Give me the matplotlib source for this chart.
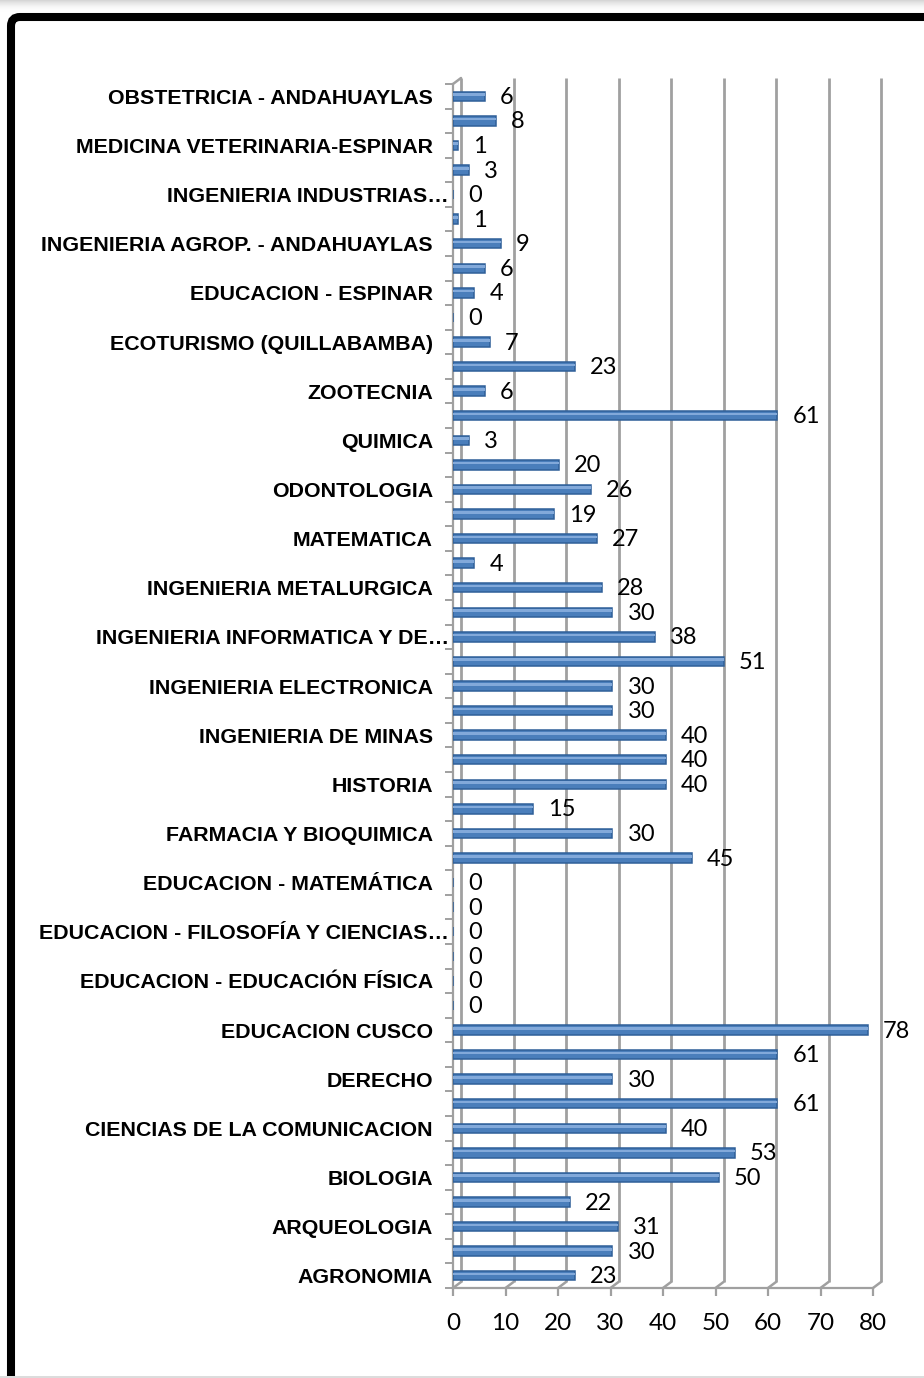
import matplotlib
matplotlib.use("Agg")
import matplotlib.pyplot as plt
from matplotlib.transforms import ScaledTranslation, IdentityTransform, Affine2D
from matplotlib.patches import FancyBboxPatch, Rectangle
import numpy as np

# ---- data (bottom to top) ----
categories = [
    "AGRONOMIA", "", "ARQUEOLOGIA", "", "BIOLOGIA", "",
    "CIENCIAS DE LA COMUNICACION", "", "DERECHO", "", "EDUCACION CUSCO", "",
    "EDUCACION - EDUCACIÓN FÍSICA", "", "EDUCACION - FILOSOFÍA Y CIENCIAS…", "",
    "EDUCACION - MATEMÁTICA", "", "FARMACIA Y BIOQUIMICA", "", "HISTORIA", "",
    "INGENIERIA DE MINAS", "", "INGENIERIA ELECTRONICA", "",
    "INGENIERIA INFORMATICA Y DE…", "", "INGENIERIA METALURGICA", "",
    "MATEMATICA", "", "ODONTOLOGIA", "", "QUIMICA", "", "ZOOTECNIA", "",
    "ECOTURISMO (QUILLABAMBA)", "", "EDUCACION - ESPINAR", "",
    "INGENIERIA AGROP. - ANDAHUAYLAS", "", "INGENIERIA INDUSTRIAS…", "",
    "MEDICINA VETERINARIA-ESPINAR", "", "OBSTETRICIA - ANDAHUAYLAS",
]
values = [
    23, 30, 31, 22, 50, 53, 40, 61, 30, 61, 78, 0,
    0, 0, 0, 0, 0, 45, 30, 15, 40, 40, 40, 30,
    30, 51, 38, 30, 28, 4, 27, 19, 26, 20, 3, 61,
    6, 23, 7, 0, 4, 6, 9, 1, 0, 3, 1, 8, 6,
]
x_ticks = [0, 10, 20, 30, 40, 50, 60, 70, 80]

W, H = 924, 1378
fig = plt.figure(figsize=(W / 100, H / 100), dpi=100)
fig.patch.set_facecolor("white")

ax_left, ax_right = 453 / W, 873 / W
ax_top, ax_bot = 1 - 84 / H, 1 - 1288 / H
ax = fig.add_axes([ax_left, ax_bot, ax_right - ax_left, ax_top - ax_bot])
ax.set_facecolor("none")

n = len(values)
y = np.arange(n)
ax.set_xlim(0, 80)
ax.set_ylim(-0.5, n - 0.5)

grid_col = "#a0a0a0"
# 3D offset of the back wall (pixels)
dx, dy = 8, 6
off = ScaledTranslation(dx / 100, dy / 100, fig.dpi_scale_trans)
back = ax.get_xaxis_transform() + off
for xv in x_ticks:
    ax.plot([xv, xv], [0, 1], transform=back, color=grid_col, lw=2.0,
            solid_capstyle="butt", zorder=1, clip_on=False)
    ax.annotate("", xy=(xv, 0), xycoords=ax.get_xaxis_transform(),
                xytext=(dx, dy), textcoords="offset pixels",
                arrowprops=dict(arrowstyle="-", color=grid_col, lw=1.8,
                                shrinkA=0, shrinkB=0), zorder=1)
# top-left slant
ax.annotate("", xy=(0, 1), xycoords=ax.get_xaxis_transform(),
            xytext=(dx, dy), textcoords="offset pixels",
            arrowprops=dict(arrowstyle="-", color=grid_col, lw=1.8,
                            shrinkA=0, shrinkB=0), zorder=1)

# bars sit mid-depth in the 3D box: slightly wider scale than the front axis
bar_tr = Affine2D().scale(1.0125, 1.0) + ax.transData
ax.barh(y, values, height=0.38, color="#4a7ebb", edgecolor="#2f5f98",
        linewidth=1.1, zorder=3, transform=bar_tr)
ax.barh(y + 0.07, values, height=0.1, color="#82a9da", linewidth=0,
        zorder=4, transform=bar_tr)

# value labels
for yi, v in zip(y, values):
    ax.annotate(f"{v}", xy=(v, yi), xycoords=bar_tr, xytext=(15, -1),
                textcoords="offset pixels", ha="left", va="center",
                fontsize=17, family="Lato", color="black", zorder=5)

# spines
for s in ["top", "right"]:
    ax.spines[s].set_visible(False)
for s in ["left", "bottom"]:
    ax.spines[s].set_color(grid_col)
    ax.spines[s].set_linewidth(1.6)

ax.set_xticks(x_ticks)
ax.set_xticklabels([str(t) for t in x_ticks], family="Lato", fontsize=17.5)
ax.tick_params(axis="x", length=6, width=1.6, color=grid_col, pad=12)

ax.set_yticks(y)
ax.set_yticklabels(categories, family="Liberation Sans", fontweight="bold",
                   fontsize=15.4)
ax.set_yticks(np.arange(-0.5, n, 1.0), minor=True)
ax.tick_params(axis="y", which="major", length=0, pad=14.4)
ax.tick_params(axis="y", which="minor", length=6, width=1.4, color=grid_col)
for lab in ax.get_yticklabels():
    if lab.get_text().endswith("…"):
        lab.set_transform(lab.get_transform() +
                          ScaledTranslation(16 / 100, 0, fig.dpi_scale_trans))

# frame: black border (top & left visible), shadow above
for i in range(13):
    a = 0.35 * (i / 12) ** 2
    fig.patches.append(Rectangle((0, H - 13 + i), W, 1.05,
                                 transform=IdentityTransform(),
                                 facecolor=(0.55, 0.55, 0.55, a),
                                 edgecolor="none"))
frame = FancyBboxPatch((11, -60), 1100, H - 17 + 60,
                       boxstyle="round,pad=0,rounding_size=9",
                       transform=IdentityTransform(),
                       facecolor="none", edgecolor="black", linewidth=5.8)
fig.patches.append(frame)
fig.patches.append(Rectangle((0, 0), W, 2, transform=IdentityTransform(),
                             facecolor="#dcdcdc", edgecolor="none"))

fig.savefig("out.png", dpi=100)
